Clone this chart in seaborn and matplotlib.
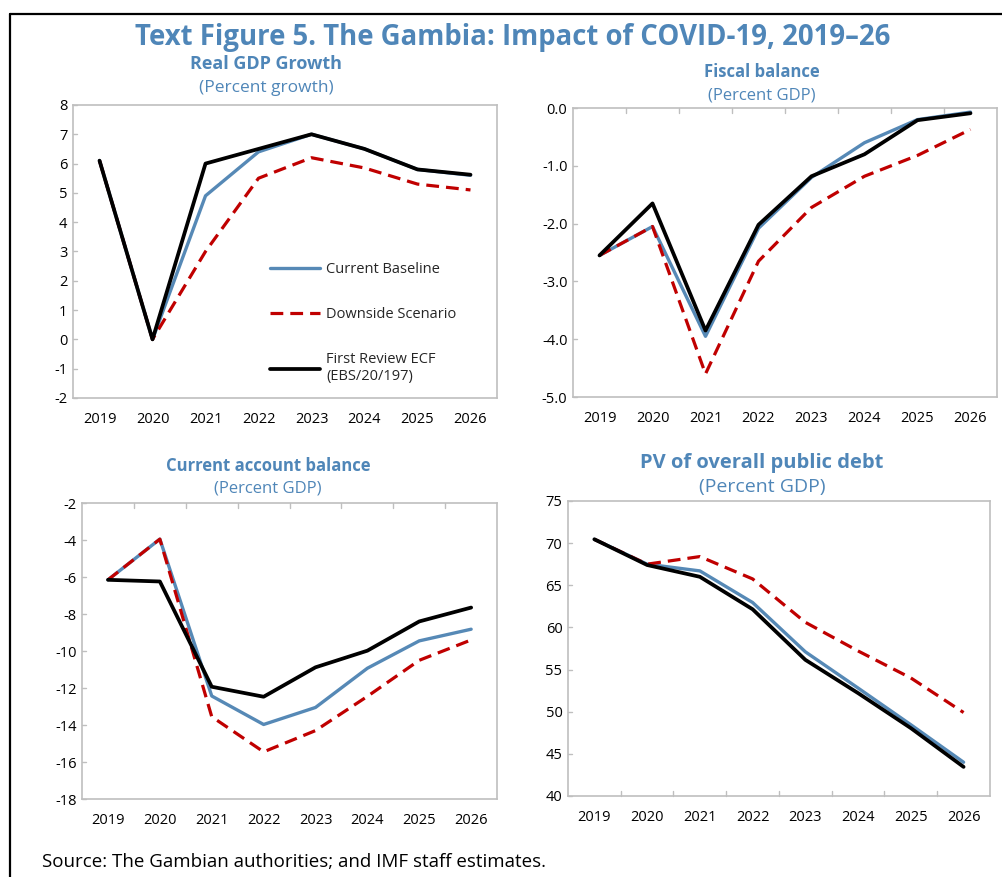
import pandas as pd
import seaborn as sns
import matplotlib.pyplot as plt
from matplotlib.lines import Line2D

years = [2019, 2020, 2021, 2022, 2023, 2024, 2025, 2026]
series_names = ["Current Baseline", "Downside Scenario", "First Review ECF\n(EBS/20/197)"]

gdp_base = [6.1, 0.0, 4.9, 6.4, 7.0, 6.5, 5.8, 5.6]
gdp_down = [6.1, 0.0, 3.0, 5.5, 6.2, 5.85, 5.3, 5.1]
gdp_ecf = [6.1, 0.0, 6.0, 6.5, 7.0, 6.5, 5.8, 5.62]

fis_base = [-2.55, -2.05, -3.95, -2.08, -1.2, -0.6, -0.2, -0.07]
fis_down = [-2.55, -2.05, -4.6, -2.65, -1.72, -1.18, -0.82, -0.37]
fis_ecf = [-2.55, -1.65, -3.85, -2.02, -1.18, -0.8, -0.21, -0.09]

ca_base = [-6.15, -3.95, -12.43, -13.97, -13.05, -10.93, -9.45, -8.82]
ca_down = [-6.15, -3.95, -13.55, -15.45, -14.3, -12.45, -10.5, -9.4]
ca_ecf = [-6.15, -6.24, -11.93, -12.47, -10.88, -9.98, -8.4, -7.65]

pv_base = [70.45, 67.5, 66.7, 62.95, 57.1, 52.8, 48.45, 44.0]
pv_down = [70.45, 67.5, 68.4, 65.75, 60.6, 57.2, 54.0, 49.9]
pv_ecf = [70.45, 67.4, 66.0, 62.15, 56.15, 52.2, 48.05, 43.45]

BLUE = "#5689b6"
RED = "#c00000"
TITLE = "#4f86b8"
GRAY = "#bfbfbf"
DASH = (4.0, 2.2)

sns.set_style("white")
plt.rcParams["font.family"] = ["Open Sans", "DejaVu Sans"]


def to_frame(base, down, ecf):
    rows = []
    for name, vals in zip(series_names, [base, down, ecf]):
        for y, v in zip(years, vals):
            rows.append({"year": y, "value": v, "series": name})
    return pd.DataFrame(rows)


def panel(ax, df, ylim, yticks, fmt, xtick_side):
    sns.lineplot(data=df, x="year", y="value", hue="series", style="series",
                 palette=[BLUE, RED, "black"],
                 dashes={series_names[0]: "", series_names[1]: DASH, series_names[2]: ""},
                 size="series", sizes={series_names[0]: 2.4, series_names[1]: 2.3, series_names[2]: 2.7},
                 ax=ax, legend=False)
    ax.set_xlim(2018.5, 2026.5)
    ax.set_ylim(*ylim)
    ax.set_xticks(years)
    ax.set_xticklabels([str(y) for y in years])
    ax.set_yticks(yticks)
    ax.set_yticklabels([fmt.format(t) for t in yticks])
    ax.tick_params(axis="both", length=0, labelsize=10.5, colors="black")
    ax.tick_params(axis="x", pad=10)
    ax.tick_params(axis="y", pad=4)
    for s in ax.spines.values():
        s.set_color(GRAY)
        s.set_linewidth(1.2)
    ax.set_xlabel("")
    ax.set_ylabel("")
    # small inner tick marks at year boundaries and y gridpoints
    if xtick_side is not None:
        yb = ylim[1] if xtick_side == "top" else ylim[0]
        span = (ylim[1] - ylim[0]) * 0.018
        d = -span if xtick_side == "top" else span
        for b in years[:-1]:
            ax.plot([b + 0.5, b + 0.5], [yb, yb + d], color=GRAY, lw=1, clip_on=False)
    for t in yticks:
        ax.plot([2018.5, 2018.5 + 0.08], [t, t], color=GRAY, lw=1, clip_on=False)


fig = plt.figure(figsize=(10.03, 8.77), dpi=100)

ax1 = fig.add_axes([0.0728, 0.5462, 0.4227, 0.3341])
ax2 = fig.add_axes([0.5713, 0.5473, 0.4227, 0.3295])
ax3 = fig.add_axes([0.0818, 0.0889, 0.4138, 0.3375])
ax4 = fig.add_axes([0.5663, 0.0924, 0.4207, 0.3364])

panel(ax1, to_frame(gdp_base, gdp_down, gdp_ecf), (-2, 8), list(range(-2, 9)), "{:d}", None)
panel(ax2, to_frame(fis_base, fis_down, fis_ecf), (-5, 0), [-5.0, -4.0, -3.0, -2.0, -1.0, 0.0], "{:.1f}", "top")
panel(ax3, to_frame(ca_base, ca_down, ca_ecf), (-18, -2), list(range(-18, -1, 2)), "{:d}", "top")
panel(ax4, to_frame(pv_base, pv_down, pv_ecf), (40, 75), list(range(40, 76, 5)), "{:d}", "bottom")

handles = [Line2D([], [], color=BLUE, lw=2.4),
           Line2D([], [], color=RED, lw=2.3, dashes=DASH),
           Line2D([], [], color="black", lw=2.7)]
ax1.legend(handles, series_names, loc="upper left", bbox_to_anchor=(0.465, 0.463),
           frameon=False, fontsize=10.5, handlelength=3.4, handletextpad=0.45,
           labelspacing=2.05, borderpad=0, borderaxespad=0)

W, H = 1003, 877
fig.text(513 / W, 1 - 38 / H, "Text Figure 5. The Gambia: Impact of COVID-19, 2019–26",
         ha="center", va="center", fontsize=19.8, fontweight="bold", color=TITLE)

subs = [(266, 64, 88, "Real GDP Growth", "(Percent growth)", 13, 12.5),
        (762, 72, 96, "Fiscal balance", "(Percent GDP)", 12, 12),
        (268, 466, 489, "Current account balance", "(Percent GDP)", 12, 12),
        (762, 463, 487, "PV of overall public debt", "(Percent GDP)", 14.5, 14)]
for x, y1, y2, t1, t2, f1, f2 in subs:
    fig.text(x / W, 1 - y1 / H, t1, ha="center", va="center", fontsize=f1,
             fontweight="bold", color=TITLE)
    fig.text(x / W, 1 - y2 / H, t2, ha="center", va="center", fontsize=f2, color=TITLE)

fig.text(42 / W, 1 - 862 / H, "Source: The Gambian authorities; and IMF staff estimates.",
         ha="left", va="center", fontsize=13.5, color="black")

# outer frame
fig.add_artist(Line2D([10 / W, 1], [1 - 14 / H, 1 - 14 / H], color="black", lw=1.6))
fig.add_artist(Line2D([10 / W, 10 / W], [0, 1 - 14 / H], color="black", lw=1.6))

fig.savefig("out.png", dpi=100)
